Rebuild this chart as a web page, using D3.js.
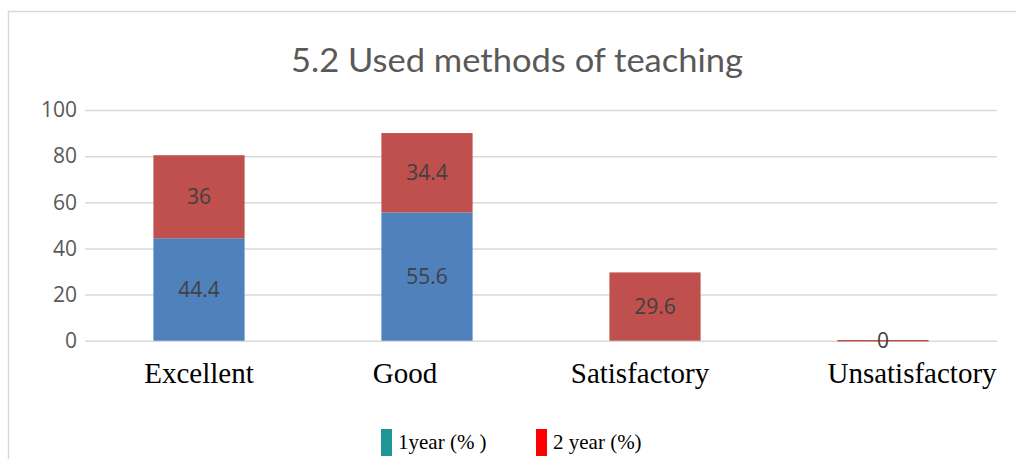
<!DOCTYPE html>
<html><head><meta charset="utf-8">
<script src="https://cdn.jsdelivr.net/npm/d3@7"></script>
<style>body{margin:0;background:#fff}svg{display:block}</style>
</head><body>
<svg id="c" width="1016" height="459"></svg>
<script>
const categories = ["Excellent", "Good", "Satisfactory", "Unsatisfactory"];
const year1 = [44.4, 55.6, 0, 0];
const year2 = [36, 34.4, 29.6, 0];
const seriesNames = ["1year (% )", "2 year (%)"];
const yTicks = [0, 20, 40, 60, 80, 100];

// layout: category label horizontal nudges (px), as in the source figure
const labelNudge = [0, -22, -15, 29];

const svg = d3.select("#c");
svg.append("rect").attr("x", 8.5).attr("y", 11.5).attr("width", 1100).attr("height", 600)
  .attr("fill", "#fff").attr("stroke", "#d9d9d9").attr("stroke-width", 1.5);

const x = d3.scaleBand().domain(categories).range([85, 997]).paddingInner(0.6).paddingOuter(0.3);
const y = d3.scaleLinear().domain([0, 100]).range([340.7, 110]);

svg.append("text").attr("x", 517).attr("y", 72).attr("text-anchor", "middle")
  .attr("font-family", "Lato, 'Open Sans', sans-serif").attr("font-size", 33).attr("fill", "#595959")
  .attr("textLength", 452).attr("lengthAdjust", "spacingAndGlyphs")
  .text("5.2 Used methods of teaching");

const yAxis = svg.append("g").attr("transform", "translate(85,0)")
  .call(d3.axisLeft(y).tickValues(yTicks).tickSize(-912).tickPadding(8));
yAxis.select(".domain").remove();
yAxis.selectAll(".tick line").attr("stroke", "#d9d9d9").attr("stroke-width", 1.5);
yAxis.selectAll(".tick text").attr("font-family", "'Open Sans', sans-serif").attr("font-size", 21).attr("fill", "#595959");

const rows = categories.map((c, i) => ({cat: c, s1: year1[i], s2: year2[i]}));
const values = [year1, year2];
const stack = d3.stack().keys(["s1", "s2"])(rows);
const colors = ["#4f81bd", "#c0504d"];

stack.forEach((layer, li) => {
  const g = svg.append("g");
  layer.forEach((d, i) => {
    const v = values[li][i];
    const cat = rows[i].cat;
    if (v > 0) {
      g.append("rect").attr("x", x(cat)).attr("width", x.bandwidth())
        .attr("y", y(d[1])).attr("height", y(d[0]) - y(d[1])).attr("fill", colors[li]);
      g.append("text").attr("x", x(cat) + x.bandwidth() / 2).attr("y", (y(d[0]) + y(d[1])) / 2 + 7.5)
        .attr("text-anchor", "middle").attr("font-family", "'Open Sans', sans-serif").attr("font-size", 21)
        .attr("fill", "#404040").text(String(v));
    }
  });
});
// zero-value bar for Unsatisfactory (2 year)
const zc = categories[3];
svg.append("line").attr("x1", x(zc)).attr("x2", x(zc) + x.bandwidth()).attr("y1", y(0)).attr("y2", y(0))
  .attr("stroke", colors[1]).attr("stroke-width", 1.5);
svg.append("text").attr("x", x(zc) + x.bandwidth() / 2).attr("y", y(0) + 7.5)
  .attr("text-anchor", "middle").attr("font-family", "'Open Sans', sans-serif").attr("font-size", 21)
  .attr("fill", "#404040").text(String(year2[3]));

const xAxis = svg.append("g").attr("transform", "translate(0,340.7)")
  .call(d3.axisBottom(x).tickSize(0).tickPadding(22));
xAxis.select(".domain").remove();
xAxis.selectAll(".tick text").attr("font-family", "'Liberation Serif', 'Times New Roman', serif")
  .attr("font-size", 29).attr("fill", "#000")
  .attr("dx", (d, i) => labelNudge[i]);

const legend = [{name: seriesNames[0], color: "#1f9696", x: 381}, {name: seriesNames[1], color: "#ff0000", x: 536}];
const lg = svg.append("g");
legend.forEach(l => {
  lg.append("rect").attr("x", l.x).attr("y", 429).attr("width", 11).attr("height", 27).attr("fill", l.color);
  lg.append("text").attr("x", l.x + 17).attr("y", 449).attr("font-family", "'Liberation Serif', 'Times New Roman', serif")
    .attr("font-size", 21).attr("fill", "#000").text(l.name);
});
</script>
</body></html>
